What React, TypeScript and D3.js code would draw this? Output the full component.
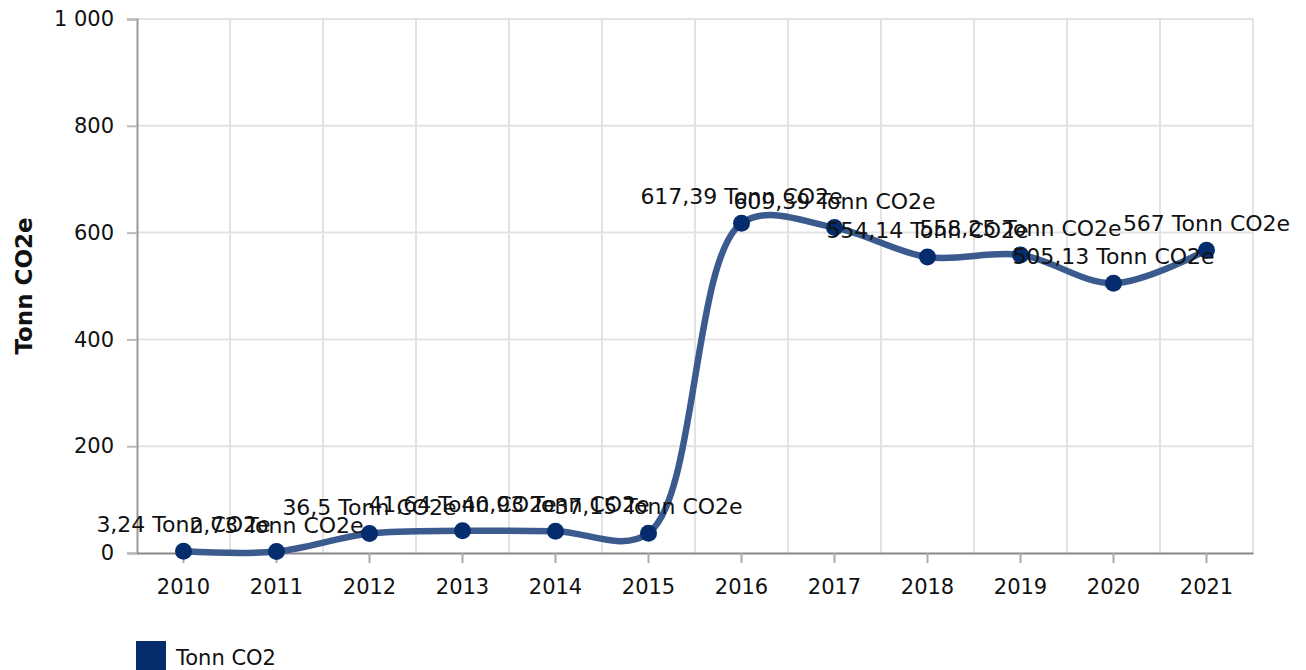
import React, { useEffect, useRef } from "react";
import * as d3 from "d3";

const years = ["2010", "2011", "2012", "2013", "2014", "2015", "2016", "2017", "2018", "2019", "2020", "2021"];
const co2 = [3.24, 2.73, 36.5, 41.64, 40.93, 37.15, 617.39, 609.39, 554.14, 558.25, 505.13, 567];
const yTicks = [0, 200, 400, 600, 800, 1000];
const seriesName = "Tonn CO2";
const axisTitle = "Tonn CO2e";

const W = 1306;
const H = 670;
const margin = { top: 19, right: 53, bottom: 117, left: 137 };
const font = "'DejaVu Sans', Verdana, sans-serif";

const fmt = (v: number) => String(v).replace(".", ",");

export default function App() {
  const ref = useRef<SVGSVGElement>(null);

  useEffect(() => {
    const svg = d3.select(ref.current);
    svg.selectAll("*").remove();

    const x = d3.scaleBand().domain(years).range([margin.left, W - margin.right]).padding(0);
    const y = d3.scaleLinear().domain([0, 1000]).range([H - margin.bottom, margin.top]);
    const cx = (d: string) => (x(d) as number) + x.bandwidth() / 2;

    // grid
    const grid = svg.append("g");
    grid.selectAll("line.h")
      .data(yTicks.slice(1))
      .join("line")
      .attr("x1", margin.left)
      .attr("x2", W - margin.right)
      .attr("y1", d => y(d))
      .attr("y2", d => y(d))
      .attr("stroke", "#e3e3e3")
      .attr("stroke-width", 2);
    grid.selectAll("line.v")
      .data(years.slice(1).concat(["end"]))
      .join("line")
      .attr("x1", (d, i) => margin.left + x.bandwidth() * (i + 1))
      .attr("x2", (d, i) => margin.left + x.bandwidth() * (i + 1))
      .attr("y1", margin.top)
      .attr("y2", H - margin.bottom)
      .attr("stroke", "#e3e3e3")
      .attr("stroke-width", 2);

    // y axis
    const yAxis = svg.append("g")
      .attr("transform", `translate(${margin.left},0)`)
      .call(d3.axisLeft(y).tickValues(yTicks).tickSize(10).tickPadding(13)
        .tickFormat(d => d3.format(",")(d as number).replace(/,/g, " ")));
    yAxis.select(".domain").attr("stroke", "#999").attr("stroke-width", 2);
    yAxis.selectAll(".tick line").attr("stroke", "#bbb").attr("stroke-width", 2);
    yAxis.selectAll("text").attr("font-family", font).attr("font-size", 21).attr("fill", "#111");

    // x axis
    const xAxis = svg.append("g")
      .attr("transform", `translate(0,${H - margin.bottom})`)
      .call(d3.axisBottom(x).tickSize(10).tickSizeOuter(0).tickPadding(16));
    xAxis.select(".domain").attr("stroke", "#888").attr("stroke-width", 2);
    xAxis.selectAll(".tick line").attr("stroke", "#aaa").attr("stroke-width", 2);
    xAxis.selectAll("text").attr("font-family", font).attr("font-size", 21).attr("fill", "#111");

    // axis title
    svg.append("text")
      .attr("transform", `translate(32,${(margin.top + H - margin.bottom) / 2}) rotate(-90)`)
      .attr("text-anchor", "middle")
      .attr("font-family", font)
      .attr("font-size", 23)
      .attr("font-weight", "bold")
      .attr("fill", "#111")
      .text(axisTitle);

    // line
    const line = d3.line<number>()
      .x((d, i) => cx(years[i]))
      .y(d => y(d))
      .curve(d3.curveCatmullRom.alpha(0.5));
    svg.append("path")
      .attr("d", line(co2))
      .attr("fill", "none")
      .attr("stroke", "#3b5a8e")
      .attr("stroke-width", 6.5)
      .attr("stroke-linecap", "round");

    // points
    svg.append("g").selectAll("circle")
      .data(co2)
      .join("circle")
      .attr("cx", (d, i) => cx(years[i]))
      .attr("cy", d => y(d))
      .attr("r", 8.5)
      .attr("fill", "#052d6e");

    // labels
    svg.append("g").selectAll("text")
      .data(co2)
      .join("text")
      .attr("x", (d, i) => cx(years[i]))
      .attr("y", d => y(d) - 19)
      .attr("text-anchor", "middle")
      .attr("font-family", font)
      .attr("font-size", 22)
      .attr("fill", "#111")
      .text(d => `${fmt(d)} Tonn CO2e`);

    // legend
    const lg = svg.append("g").attr("transform", `translate(${margin.left - 1},641)`);
    lg.append("rect").attr("width", 30).attr("height", 30).attr("fill", "#052d6e");
    lg.append("text")
      .attr("x", 40)
      .attr("y", 24)
      .attr("font-family", font)
      .attr("font-size", 21)
      .attr("fill", "#111")
      .text(seriesName);
  }, []);

  return (
    <svg
      ref={ref}
      width={W}
      height={H}
      style={{ position: "absolute", left: 0, top: 0, background: "#fff" }}
    />
  );
}
